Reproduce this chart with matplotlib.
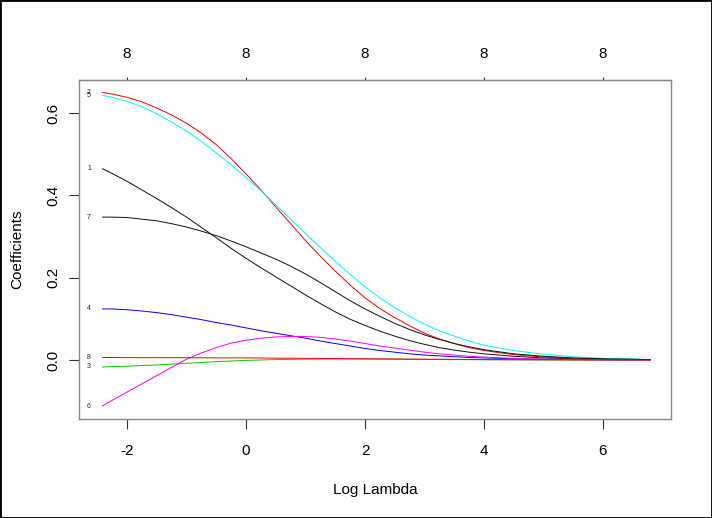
import matplotlib
matplotlib.use("Agg")
import matplotlib.pyplot as plt
from matplotlib.patches import Rectangle

plt.rcParams['font.family'] = ['Liberation Sans', 'DejaVu Sans']

log_lambda = [-2.42, -2.25, -2.0, -1.75, -1.5, -1.25, -1.0, -0.75, -0.5, -0.25,
              0.0, 0.25, 0.5, 0.75, 1.0, 1.25, 1.5, 1.75, 2.0, 2.25, 2.5, 2.75,
              3.0, 3.25, 3.5, 3.75, 4.0, 4.5, 5.0, 5.5, 6.0, 6.8]

coef_1 = [0.465, 0.453, 0.434, 0.413, 0.392, 0.370, 0.347, 0.322, 0.297, 0.271,
          0.247, 0.224, 0.202, 0.180, 0.158, 0.137, 0.117, 0.099, 0.084, 0.070,
          0.058, 0.047, 0.038, 0.030, 0.024, 0.019, 0.015, 0.009, 0.005, 0.003,
          0.002, 0.001]
coef_2 = [0.650, 0.646, 0.638, 0.627, 0.612, 0.595, 0.575, 0.551, 0.523, 0.489,
          0.452, 0.413, 0.372, 0.331, 0.290, 0.252, 0.216, 0.182, 0.151, 0.125,
          0.103, 0.083, 0.065, 0.051, 0.040, 0.030, 0.023, 0.013, 0.007, 0.004,
          0.002, 0.001]
coef_3 = [-0.017, -0.016, -0.015, -0.0135, -0.012, -0.010, -0.008, -0.006, -0.004, -0.0025,
          -0.001, 0.0, 0.001, 0.0015, 0.002, 0.0023, 0.0025, 0.0023, 0.002, 0.0019,
          0.0018, 0.0015, 0.0013, 0.0011, 0.001, 0.0008, 0.0006, 0.0004, 0.0002, 0.0001,
          0.0001, 0.0]
coef_4 = [0.124, 0.124, 0.122, 0.119, 0.115, 0.110, 0.104, 0.098, 0.091, 0.085,
          0.078, 0.071, 0.065, 0.059, 0.053, 0.046, 0.040, 0.034, 0.028, 0.023,
          0.019, 0.015, 0.012, 0.010, 0.008, 0.006, 0.005, 0.003, 0.002, 0.001,
          0.0007, 0.0003]
coef_5 = [0.643, 0.638, 0.628, 0.615, 0.598, 0.578, 0.556, 0.531, 0.503, 0.474,
          0.443, 0.411, 0.377, 0.342, 0.307, 0.273, 0.240, 0.208, 0.178, 0.151,
          0.127, 0.106, 0.087, 0.071, 0.058, 0.046, 0.036, 0.023, 0.014, 0.008,
          0.004, 0.0015]
coef_6 = [-0.112, -0.098, -0.078, -0.058, -0.038, -0.018, 0.002, 0.017, 0.030, 0.041,
          0.048, 0.053, 0.056, 0.057, 0.057, 0.055, 0.051, 0.046, 0.040, 0.034,
          0.029, 0.024, 0.019, 0.015, 0.012, 0.009, 0.007, 0.004, 0.002, 0.001,
          0.0008, 0.0003]
coef_7 = [0.347, 0.347, 0.346, 0.342, 0.338, 0.331, 0.323, 0.313, 0.302, 0.289,
          0.275, 0.260, 0.245, 0.228, 0.209, 0.188, 0.166, 0.144, 0.124, 0.106,
          0.089, 0.074, 0.061, 0.050, 0.040, 0.032, 0.025, 0.015, 0.009, 0.005,
          0.003, 0.001]
coef_8 = [0.006, 0.006, 0.0058, 0.0057, 0.0056, 0.0055, 0.0055, 0.0053, 0.0052, 0.0051,
          0.005, 0.0048, 0.0045, 0.0042, 0.004, 0.0037, 0.0035, 0.0032, 0.003, 0.0028,
          0.0025, 0.0022, 0.002, 0.0017, 0.0015, 0.0012, 0.001, 0.0007, 0.0004, 0.0002,
          0.0001, 0.0]

series = [coef_1, coef_2, coef_3, coef_4, coef_5, coef_6, coef_7, coef_8]
series_labels = ['1', '2', '3', '4', '5', '6', '7', '8']
colors = ['#111111', '#FF0000', '#00CD00', '#0000FF', '#00FFFF', '#FF00FF', '#111111', '#FF0000']

x_ticks = [-2, 0, 2, 4, 6]
y_ticks = [0.0, 0.2, 0.4, 0.6]
y_tick_labels = ['0.0', '0.2', '0.4', '0.6']
top_labels = ['8', '8', '8', '8', '8']

W, H = 712, 518
fig = plt.figure(figsize=(W / 100, H / 100), dpi=100)
ax = fig.add_axes([79 / W, 1 - 419 / H, (671 - 79) / W, (419 - 80) / H])

for ys, c in zip(series, colors):
    ax.plot(log_lambda, ys, color=c, lw=0.7, solid_capstyle='butt', solid_joinstyle='round')

for ys, lab in zip(series, series_labels):
    ax.text(-2.64, ys[0], lab, fontsize=5, ha='center', va='center', color='#222222')

ax.set_xlim(-2.807, 7.143)
ax.set_ylim(-0.1433, 0.680)

ax.set_xticks(x_ticks)
ax.set_xticklabels([str(t) for t in x_ticks])
ax.set_yticks(y_ticks)
ax.set_yticklabels(y_tick_labels, rotation=90, va='center')
ax.tick_params(axis='x', length=7.2, width=0.8, pad=10.5, labelsize=11, color='#333333')
ax.tick_params(axis='y', length=7.2, width=0.8, pad=6, labelsize=11, color='#333333')

for s in ax.spines.values():
    s.set_color('#888888')
    s.set_linewidth(1.0)

secax = ax.secondary_xaxis('top')
secax.set_xticks(x_ticks)
secax.set_xticklabels(top_labels)
secax.tick_params(length=2.5, width=0.8, pad=11, labelsize=11, color='#333333')
secax.spines['top'].set_color('#333333')

ax.set_xlabel('Log Lambda', fontsize=11, labelpad=18)
ax.set_ylabel('Coefficients', fontsize=11, labelpad=16)

fig.patches.append(Rectangle((0, 0), 1, 1, transform=fig.transFigure,
                             fill=False, edgecolor='black', linewidth=2.0))

fig.savefig('out.png', dpi=100)
